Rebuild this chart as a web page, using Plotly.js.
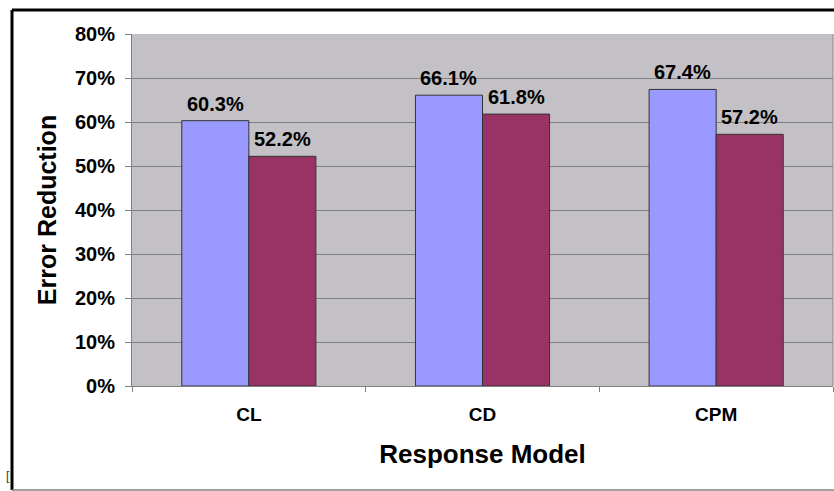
<!DOCTYPE html>
<html>
<head>
<meta charset="utf-8">
<script src="https://cdn.plot.ly/plotly-3.0.1.min.js"></script>
<style>
  html, body { margin: 0; padding: 0; background: #fff; }
  #chart { width: 834px; height: 491px; }
</style>
</head>
<body>
<div id="chart"></div>
<script>
const categories = ["CL", "CD", "CPM"];
const seriesA = [60.3, 66.1, 67.4];
const seriesB = [52.2, 61.8, 57.2];
const yTickVals = [0, 10, 20, 30, 40, 50, 60, 70, 80];
const yTickText = ["0%", "10%", "20%", "30%", "40%", "50%", "60%", "70%", "80%"];

const fontFam = "Liberation Sans, Arial, sans-serif";
const BARGAP = 0.426;
const half = (1 - BARGAP) / 4; // offset of each bar centre from category centre

const traceA = {
  type: "bar",
  x: categories,
  y: seriesA,
  name: "A",
  marker: { color: "#9999FF", line: { color: "#333333", width: 1 } },
  hoverinfo: "none"
};
const traceB = {
  type: "bar",
  x: categories,
  y: seriesB,
  name: "B",
  marker: { color: "#993366", line: { color: "#333333", width: 1 } },
  hoverinfo: "none"
};

const L = 132, T = 34, W = 701, H = 352;
const px = x => (x - L) / W;
const py = y => (T + H - y) / H;

const labelFont = { family: fontFam, size: 20, color: "#000", weight: "bold" };
const valueAnnotations = [];
categories.forEach((c, i) => {
  valueAnnotations.push({ xref: "x", yref: "y", x: i - half, y: seriesA[i], text: seriesA[i].toFixed(1) + "%",
    showarrow: false, yanchor: "bottom", xanchor: "center", yshift: 4, font: labelFont });
  valueAnnotations.push({ xref: "x", yref: "y", x: i + half, y: seriesB[i], text: seriesB[i].toFixed(1) + "%",
    showarrow: false, yanchor: "bottom", xanchor: "center", yshift: 4, font: labelFont });
});

const layout = {
  width: 834,
  height: 491,
  margin: { l: L, r: 834 - L - W, t: T, b: 491 - T - H, pad: 0 },
  paper_bgcolor: "#ffffff",
  plot_bgcolor: "#C3C1C5",
  showlegend: false,
  barmode: "group",
  bargap: BARGAP,
  bargroupgap: 0,
  font: { family: fontFam, color: "#000" },
  xaxis: {
    type: "category",
    range: [-0.5, 2.5],
    tickson: "boundaries",
    ticks: "outside",
    ticklen: 5,
    tickcolor: "#808080",
    showline: true,
    linecolor: "#808080",
    linewidth: 1,
    showgrid: false,
    tickfont: { family: fontFam, size: 19, weight: "bold", color: "#000" },
    ticklabelstandoff: 11,
    title: { text: "Response Model", font: { family: fontFam, size: 26, weight: "bold", color: "#000" }, standoff: 21 }
  },
  yaxis: {
    range: [0, 80],
    tickvals: yTickVals,
    ticktext: yTickText,
    ticks: "outside",
    ticklen: 6,
    tickcolor: "#808080",
    showline: true,
    linecolor: "#808080",
    showgrid: true,
    gridcolor: "#808080",
    gridwidth: 1,
    zeroline: false,
    tickfont: { family: fontFam, size: 20, weight: "bold", color: "#000" },
    ticklabelstandoff: 6,
    title: { text: "Error Reduction", font: { family: fontFam, size: 25, weight: "bold", color: "#000" }, standoff: 11 }
  },
  shapes: [
    { type: "line", xref: "paper", yref: "paper", x0: px(12), x1: px(834), y0: py(10), y1: py(10), line: { color: "#000", width: 3 } },
    { type: "line", xref: "paper", yref: "paper", x0: px(12), x1: px(12), y0: py(10), y1: py(490), line: { color: "#000", width: 3 } },
    { type: "line", xref: "paper", yref: "paper", x0: px(12), x1: px(834), y0: py(490), y1: py(490), line: { color: "#808080", width: 1.5 } },
    { type: "line", xref: "paper", yref: "paper", x0: 1, x1: 1, y0: 0, y1: 1, line: { color: "#808080", width: 1 } }
  ],
  annotations: valueAnnotations.concat([
    { xref: "paper", yref: "paper", x: px(4), y: py(485), text: "[", showarrow: false, font: { family: fontFam, size: 12, color: "#333" } }
  ])
};

Plotly.newPlot("chart", [traceA, traceB], layout, { staticPlot: true, displayModeBar: false });
</script>
</body>
</html>
